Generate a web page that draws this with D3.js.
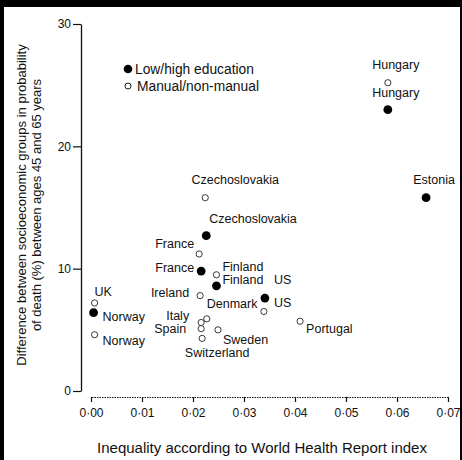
<!DOCTYPE html>
<html>
  <head>
    <meta charset="utf-8">
    <title>Inequality and socioeconomic mortality gap</title>
    <style>
      body { margin: 0; background: #fff; }
      svg text { font-family: "Liberation Sans", Arial, sans-serif; fill: #111; }
    </style>
  </head>
  <body>
    <script src="https://d3js.org/d3.v7.min.js"></script>
    <svg id="chart" width="462" height="460"></svg>
    <script>

      // Low/high education (filled dots)
      var eduCountries = ["Hungary", "Estonia", "Czechoslovakia", "France", "Finland", "US", "Norway"];
      var eduX = [0.0582, 0.0657, 0.0226, 0.0216, 0.0246, 0.0341, 0.0005];
      var eduY = [23.0, 15.8, 12.7, 9.8, 8.6, 7.6, 6.4];

      // Manual/non-manual (open circles)
      var occCountries = ["Hungary", "Czechoslovakia", "France", "Finland", "Ireland", "US", "UK",
                          "Norway", "Portugal", "Denmark", "Italy", "Spain", "Switzerland", "Sweden"];
      var occX = [0.0582, 0.0224, 0.0212, 0.0246, 0.0214, 0.0339, 0.0007,
                  0.0007, 0.0410, 0.0227, 0.0216, 0.0216, 0.0218, 0.0249];
      var occY = [25.2, 15.8, 11.2, 9.5, 7.8, 6.5, 7.2,
                  4.6, 5.7, 5.9, 5.6, 5.1, 4.3, 5.0];

      var xTicks = [0, 0.01, 0.02, 0.03, 0.04, 0.05, 0.06, 0.07];
      var yTicks = [0, 10, 20, 30];
      var legendLabels = ["Low/high education", "Manual/non-manual"];
      var xTitle = "Inequality according to World Health Report index";
      var yTitle = ["Difference between socioeconomic groups in probability",
                    "of death (%) between ages 45 and 65 years"];

      // where each country name sits relative to its point: [dx, dy, anchor]
      var eduLabelPos = {
        "Hungary": [8, -17, "middle"],
        "Estonia": [8, -18, "middle"],
        "Czechoslovakia": [3, -17, "start"],
        "France": [-7, -3, "end"],
        "Finland": [6, -6, "start"],
        "US": [9, -18, "start"],
        "Norway": [9, 4, "start"]
      };
      var occLabelPos = {
        "Hungary": [8, -18, "middle"],
        "Czechoslovakia": [30, -18, "middle"],
        "France": [-5, -10, "end"],
        "Finland": [6, -8, "start"],
        "Ireland": [-11, -3, "end"],
        "US": [10, -9, "start"],
        "UK": [0, -11, "start"],
        "Norway": [8, 6, "start"],
        "Portugal": [6, 7, "start"],
        "Denmark": [0, -15, "start"],
        "Italy": [-12, -7, "end"],
        "Spain": [-15, 0, "end"],
        "Switzerland": [15, 14.5, "middle"],
        "Sweden": [5, 10, "start"]
      };

      var svg = d3.select("#chart");

      // scan border
      svg.append("rect").attr("x", 0).attr("y", 0).attr("width", 462).attr("height", 7).attr("fill", "#000");
      svg.append("rect").attr("x", 0).attr("y", 0).attr("width", 4).attr("height", 460).attr("fill", "#000");
      svg.append("rect").attr("x", 460).attr("y", 0).attr("width", 2).attr("height", 460).attr("fill", "#000");

      var x = d3.scaleLinear().domain([0, 0.07]).range([91, 448]);
      var y = d3.scaleLinear().domain([0, 30]).range([391, 24]);

      // y axis
      var yAxis = svg.append("g")
        .attr("transform", "translate(81,0)")
        .call(d3.axisLeft(y).tickValues(yTicks).tickSize(8).tickSizeOuter(0).tickPadding(2));
      yAxis.select(".domain").attr("stroke", "#111").attr("stroke-width", 1.3);
      yAxis.selectAll(".tick line").attr("stroke", "#111").attr("stroke-width", 1.2);
      yAxis.selectAll(".tick text").style("font-size", "12px").attr("fill", "#111");

      // x axis, dotted base line
      var fmt = d3.format(".2f");
      var xAxis = svg.append("g")
        .attr("transform", "translate(0,397)")
        .call(d3.axisBottom(x).tickValues(xTicks).tickSize(5).tickSizeOuter(5).tickPadding(6)
          .tickFormat(function(d) { return fmt(d).replace(".", "\u00b7"); }));
      xAxis.select(".domain").attr("stroke", "#111").attr("stroke-dasharray", "1.5,1");
      xAxis.selectAll(".tick line").attr("stroke", "#111").attr("stroke-width", 1.2);
      xAxis.selectAll(".tick text").style("font-size", "12px").attr("fill", "#111");

      // axis titles
      svg.append("text")
        .attr("x", 262).attr("y", 453)
        .attr("text-anchor", "middle")
        .style("font-size", "15px")
        .text(xTitle);

      svg.selectAll(".ytitle")
        .data(yTitle)
        .enter()
        .append("text")
          .attr("class", "ytitle")
          .attr("transform", function(d, i) { return "translate(" + (26 + i * 15) + ",205) rotate(-90)"; })
          .attr("text-anchor", "middle")
          .style("font-size", "13px")
          .text(function(d) { return d; });

      // legend
      var legend = svg.append("g");
      legendLabels.forEach(function(lab, i) {
        var ly = 69 + i * 17;
        legend.append("circle")
          .attr("cx", 128).attr("cy", ly)
          .attr("r", i == 0 ? 4.3 : 3)
          .attr("fill", i == 0 ? "#000" : "#fff")
          .attr("stroke", "#000")
          .attr("stroke-width", i == 0 ? 0 : 0.9);
        legend.append("text")
          .attr("x", i == 0 ? 135 : 137).attr("y", ly)
          .attr("dy", "0.35em")
          .style("font-size", "13.8px")
          .text(lab);
      });

      var edu = eduCountries.map(function(c, i) { return { name: c, x: eduX[i], y: eduY[i], pos: eduLabelPos[c] }; });
      var occ = occCountries.map(function(c, i) { return { name: c, x: occX[i], y: occY[i], pos: occLabelPos[c] }; });

      // open circles
      svg.append("g")
        .selectAll("circle")
        .data(occ)
        .enter()
        .append("circle")
          .attr("cx", function(d) { return x(d.x); })
          .attr("cy", function(d) { return y(d.y); })
          .attr("r", 3.1)
          .attr("fill", "#fff")
          .attr("stroke", "#222")
          .attr("stroke-width", 0.9);

      // filled dots
      svg.append("g")
        .selectAll("circle")
        .data(edu)
        .enter()
        .append("circle")
          .attr("cx", function(d) { return x(d.x); })
          .attr("cy", function(d) { return y(d.y); })
          .attr("r", 4.4)
          .attr("fill", "#000");

      // country names
      svg.append("g")
        .selectAll("text")
        .data(edu.concat(occ))
        .enter()
        .append("text")
          .attr("x", function(d) { return x(d.x) + d.pos[0]; })
          .attr("y", function(d) { return y(d.y) + d.pos[1]; })
          .attr("dy", "0.35em")
          .attr("text-anchor", function(d) { return d.pos[2]; })
          .style("font-size", "12.5px")
          .text(function(d) { return d.name; });

    </script>
  </body>
</html>
